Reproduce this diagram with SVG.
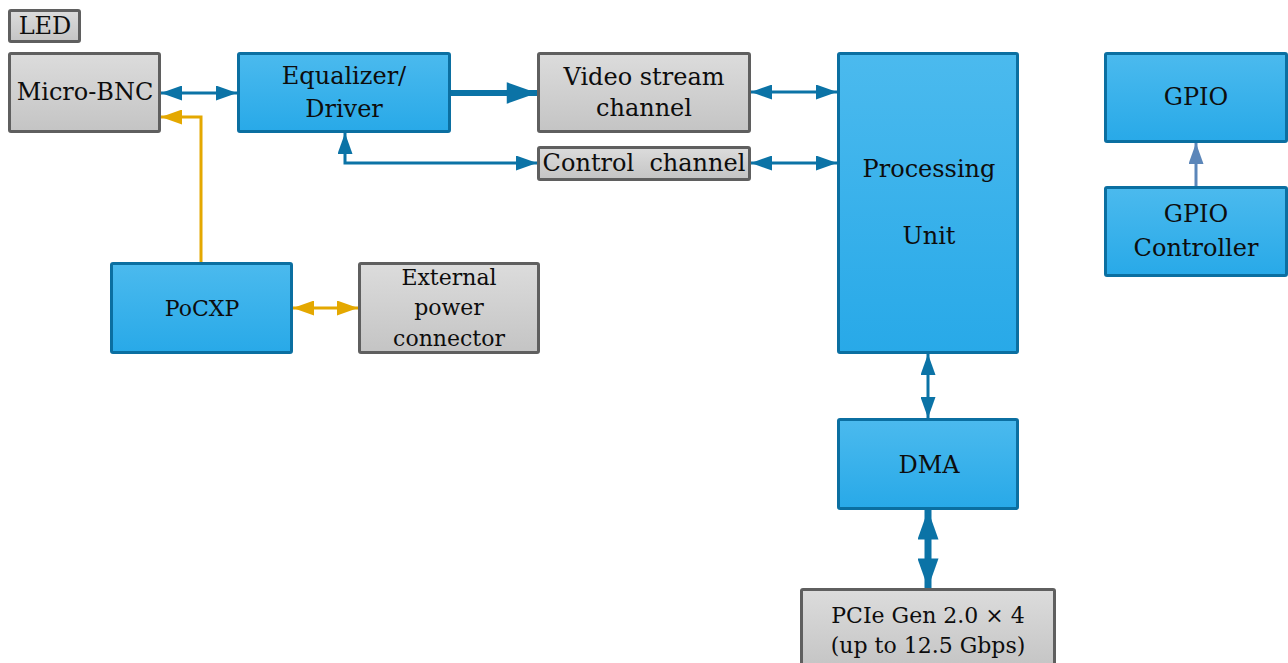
<svg xmlns="http://www.w3.org/2000/svg" width="1288" height="663" viewBox="0 0 1288 663">
<defs>
<linearGradient id="gb" x1="0" y1="0" x2="0" y2="1"><stop offset="0" stop-color="#4bbaee"/><stop offset="1" stop-color="#28a9e8"/></linearGradient>
<linearGradient id="gg" x1="0" y1="0" x2="0" y2="1"><stop offset="0" stop-color="#dcdcdc"/><stop offset="1" stop-color="#c4c4c4"/></linearGradient>
<marker id="ab" viewBox="0 0 14 10" refX="14" refY="5" markerWidth="7" markerHeight="5" orient="auto-start-reverse" markerUnits="strokeWidth"><path d="M0,0 L14,5 L0,10 z" fill="#0b73a6"/></marker>
<marker id="a6" viewBox="0 0 14 10" refX="14" refY="5" markerWidth="5.5" markerHeight="3.6" orient="auto-start-reverse" markerUnits="strokeWidth"><path d="M0,0 L14,5 L0,10 z" fill="#0b73a6"/></marker>
<marker id="a7" viewBox="0 0 14 10" refX="14" refY="5" markerWidth="4.3" markerHeight="3" orient="auto-start-reverse" markerUnits="strokeWidth"><path d="M0,0 L14,5 L0,10 z" fill="#0b73a6"/></marker>
<marker id="ay" viewBox="0 0 14 10" refX="14" refY="5" markerWidth="7" markerHeight="5" orient="auto-start-reverse" markerUnits="strokeWidth"><path d="M0,0 L14,5 L0,10 z" fill="#e4a800"/></marker>
<marker id="ag" viewBox="0 0 14 10" refX="14" refY="5" markerWidth="7" markerHeight="5" orient="auto-start-reverse" markerUnits="strokeWidth"><path d="M0,0 L14,5 L0,10 z" fill="#5b86b9"/></marker>
</defs>
<style>
.b{fill:url(#gb);stroke:#0b6fa1;stroke-width:3}
.g{fill:url(#gg);stroke:#5f5f5f;stroke-width:3}
text{font-family:"DejaVu Serif","Liberation Serif",serif;font-size:24px;fill:#0d0d0d;text-anchor:middle}
.s{font-size:22px}
.c{fill:none;stroke:#0b73a6;stroke-width:3}
.y{fill:none;stroke:#e4a800;stroke-width:3}
</style>
<g id="connectors">
<path class="c" d="M161,93 H237" marker-start="url(#ab)" marker-end="url(#ab)"/>
<path class="y" d="M201,263 V117 H161" marker-end="url(#ay)"/>
<path class="c" d="M449,93 H537" style="stroke-width:6" marker-end="url(#a6)"/>
<circle cx="449" cy="93" r="3.5" fill="#0b73a6"/>
<path class="c" d="M751,92 H837" marker-start="url(#ab)" marker-end="url(#ab)"/>
<path class="c" d="M345,133 V163 H537" marker-start="url(#ab)" marker-end="url(#ab)"/>
<path class="c" d="M751,163 H837" marker-start="url(#ab)" marker-end="url(#ab)"/>
<path class="c" d="M928,354 V418" marker-start="url(#ab)" marker-end="url(#ab)"/>
<path class="c" d="M928,510 V588" style="stroke-width:7" marker-start="url(#a7)" marker-end="url(#a7)"/>
<path d="M1196,187 V143" fill="none" stroke="#5b86b9" stroke-width="3" marker-end="url(#ag)"/>
<path class="y" d="M293,308 H358" marker-start="url(#ay)" marker-end="url(#ay)"/>
</g>
<g id="led"><rect class="g" x="9.5" y="10.5" width="70" height="31" rx="1.5"/><text x="45" y="34">LED</text></g>
<g id="micro-bnc"><rect class="g" x="9.5" y="53.5" width="150" height="78" rx="1.5"/><text x="85" y="100">Micro-BNC</text></g>
<g id="equalizer"><rect class="b" x="238.5" y="53.5" width="211" height="78" rx="1.5"/><text x="344" y="84">Equalizer/</text><text x="344" y="117">Driver</text></g>
<g id="video"><rect class="g" x="538.5" y="53.5" width="211" height="78" rx="1.5"/><text x="644" y="85">Video stream</text><text x="644" y="116">channel</text></g>
<g id="control"><rect class="g" x="538.5" y="147.5" width="211" height="32" rx="1.5"/><text x="644" y="171" xml:space="preserve">Control  channel</text></g>
<g id="processing"><rect class="b" x="838.5" y="53.5" width="179" height="299" rx="1.5"/><text x="929" y="177">Processing</text><text x="929" y="244">Unit</text></g>
<g id="gpio"><rect class="b" x="1105.5" y="53.5" width="181" height="88" rx="1.5"/><text x="1196" y="105">GPIO</text></g>
<g id="gpio-controller"><rect class="b" x="1105.5" y="187.5" width="181" height="88" rx="1.5"/><text x="1196" y="222">GPIO</text><text x="1196" y="256">Controller</text></g>
<g id="pocxp"><rect class="b" x="111.5" y="263.5" width="180" height="89" rx="1.5"/><text x="202" y="316" class="s">PoCXP</text></g>
<g id="external"><rect class="g" x="359.5" y="263.5" width="179" height="89" rx="1.5"/><text x="449" y="285" class="s">External</text><text x="449" y="315" class="s">power</text><text x="449" y="346" class="s">connector</text></g>
<g id="dma"><rect class="b" x="838.5" y="419.5" width="179" height="89" rx="1.5"/><text x="929" y="473">DMA</text></g>
<g id="pcie"><rect class="g" x="801.5" y="589.5" width="253" height="80" rx="1.5"/><text x="928" y="623" class="s">PCIe Gen 2.0 × 4</text><text x="928" y="653" class="s">(up to 12.5 Gbps)</text></g>
</svg>
